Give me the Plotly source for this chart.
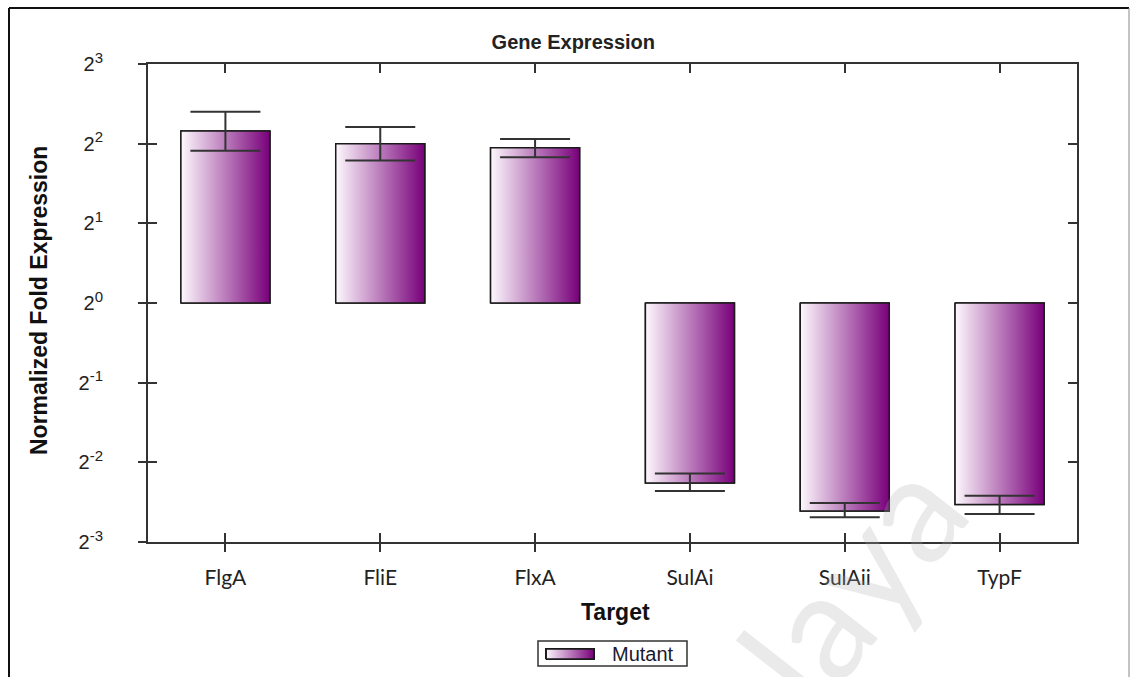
import plotly.graph_objects as go

# ---- data (log2 of normalized fold expression) ----
targets = ["FlgA", "FliE", "FlxA", "SulAi", "SulAii", "TypF"]
log2_fold = [2.16, 2.00, 1.95, -2.26, -2.61, -2.53]
err_plus = [0.24, 0.21, 0.11, 0.12, 0.10, 0.11]
err_minus = [0.25, 0.21, 0.12, 0.10, 0.08, 0.12]
y_tick_exps = [-3, -2, -1, 0, 1, 2, 3]
series_name = "Mutant"

BAR_W = 0.575
GRAD = [[0, "#fdf8fd"], [1, "#78007a"]]
AX = "#333333"
EDGE = "#1a1a1a"

# plot area in pixels: x 148..1077, y 64..672 ; main axes occupy y 64..542
H_PLOT = 608.0
def py(ypix):  # pixel row -> paper y
    return (672 - ypix) / H_PLOT
def px(xpix):  # pixel column -> paper x
    return (xpix - 148) / 929.0

main_dom = [py(542), 1.0]
idx = list(range(len(targets)))

fig = go.Figure()

# outline bars (data bars)
fig.add_trace(go.Bar(
    x=idx, y=log2_fold, width=BAR_W,
    marker=dict(color="rgba(0,0,0,0)", line=dict(color=EDGE, width=1.5)),
    showlegend=False, name=series_name, hoverinfo="skip",
))

# gradient-filled bar bodies (one polygon per bar so each gets its own gradient)
for i, v in zip(idx, log2_fold):
    x0, x1 = i - BAR_W / 2, i + BAR_W / 2
    fig.add_trace(go.Scatter(
        x=[x0, x1, x1, x0, x0], y=[0, 0, v, v, 0],
        mode="lines", fill="toself",
        fillgradient=dict(type="horizontal", colorscale=GRAD),
        line=dict(color=EDGE, width=1.5),
        name=series_name, showlegend=False, hoverinfo="skip",
    ))

# asymmetric error bars on top
fig.add_trace(go.Scatter(
    x=idx, y=log2_fold, mode="markers",
    marker=dict(size=1, color="rgba(0,0,0,0)"),
    error_y=dict(type="data", symmetric=False, array=err_plus, arrayminus=err_minus,
                 color=AX, thickness=2, width=35),
    showlegend=False, name=series_name,
))

# helper trace for the overlaid inside-tick axes
fig.add_trace(go.Scatter(x=[None], y=[None], xaxis="x2", yaxis="y2",
                         showlegend=False, hoverinfo="skip"))

# legend swatch (gradient box) on its own tiny axes
fig.add_trace(go.Scatter(
    x=[0, 1, 1, 0, 0], y=[0, 0, 1, 1, 0], xaxis="x3", yaxis="y3",
    mode="lines", fill="toself",
    fillgradient=dict(type="horizontal", colorscale=GRAD),
    line=dict(color=EDGE, width=2), showlegend=False, hoverinfo="skip",
))

ytext = [f"2<sup><span style='font-size:15px'>{e}</span></sup>" for e in y_tick_exps]
xr = [-0.5, len(targets) - 0.5]
yr = [-3, 3]
hidden = dict(visible=False, showgrid=False, zeroline=False)

fig.update_layout(
    width=1131, height=677, autosize=False,
    margin=dict(l=148, r=54, t=64, b=5),
    paper_bgcolor="white", plot_bgcolor="rgba(0,0,0,0)",
    barmode="overlay",
    showlegend=False,
    font=dict(family="Liberation Sans, Arial", color="#222222"),
    xaxis=dict(range=xr, tickvals=idx, ticktext=targets, anchor="y", automargin=False,
               showgrid=False, zeroline=False, showline=True, mirror=True,
               linecolor=AX, linewidth=2, ticks="outside", ticklen=8,
               tickwidth=2, tickcolor=AX, ticklabelstandoff=8,
               tickfont=dict(family="Lato, Open Sans", size=21, color="#222222")),
    yaxis=dict(range=yr, domain=main_dom, tickvals=y_tick_exps, ticktext=ytext,
               automargin=False,
               showgrid=False, zeroline=False, showline=True, mirror=True,
               linecolor=AX, linewidth=2, ticks="outside", ticklen=8,
               tickwidth=2, tickcolor=AX, ticklabelstandoff=31,
               tickfont=dict(family="Liberation Sans, Arial", size=20, color="#222222")),
    xaxis2=dict(overlaying="x", anchor="y2", range=xr, automargin=False,
                tickvals=idx, showticklabels=False,
                showgrid=False, zeroline=False, showline=False,
                ticks="inside", mirror="ticks", ticklen=9, tickwidth=2, tickcolor=AX),
    yaxis2=dict(overlaying="y", anchor="x2", range=yr, tickvals=y_tick_exps,
                automargin=False,
                showticklabels=False, showgrid=False, zeroline=False,
                showline=False, ticks="inside", mirror="ticks", ticklen=9,
                tickwidth=2, tickcolor=AX),
    xaxis3=dict(domain=[px(545), px(595)], anchor="y3", range=[-0.02, 1.02],
                automargin=False, **hidden),
    yaxis3=dict(domain=[py(660), py(648)], anchor="x3", range=[-0.06, 1.06],
                automargin=False, **hidden),
    title=dict(text="<b>Gene Expression</b>", x=px(655), xref="paper",
               y=1 - 42 / 677, yref="container", xanchor="right", yanchor="middle",
               font=dict(size=20, family="Liberation Sans, Arial", color="#222222")),
)

# axis titles
fig.add_annotation(text="<b>Normalized Fold Expression</b>", xref="paper", yref="paper",
                   x=px(39), y=py(301), textangle=-90, showarrow=False,
                   xanchor="center", yanchor="middle",
                   font=dict(size=23, family="Liberation Sans, Arial", color="#111111"))
fig.add_annotation(text="<b>Target</b>", xref="paper", yref="paper",
                   x=px(615), y=py(612), showarrow=False, xanchor="center", yanchor="middle",
                   font=dict(size=23, family="Liberation Sans, Arial", color="#111111"))

# legend frame + label
fig.add_shape(type="rect", xref="paper", yref="paper",
              x0=px(538), x1=px(687), y0=py(666), y1=py(641),
              line=dict(color=AX, width=1.5), fillcolor="rgba(0,0,0,0)")
fig.add_annotation(text=series_name, xref="paper", yref="paper",
                   x=px(610), y=py(654), showarrow=False, xanchor="left", yanchor="middle",
                   font=dict(size=20, family="Liberation Sans, Arial", color="#1a1a2e"))

# faint watermark
fig.add_annotation(text="laya", xref="paper", yref="paper", x=px(850), y=py(580),
                   textangle=-52, showarrow=False, xanchor="center", yanchor="middle",
                   font=dict(size=150, family="Lato, Open Sans", color="rgba(170,170,170,0.25)"))

# outer frame of the picture
fig.add_shape(type="line", xref="paper", yref="paper", x0=px(9), x1=px(1129),
              y0=py(8), y1=py(8), line=dict(color="#111111", width=2))
fig.add_shape(type="line", xref="paper", yref="paper", x0=px(9), x1=px(9),
              y0=py(8), y1=py(700), line=dict(color="#111111", width=2))
fig.add_shape(type="line", xref="paper", yref="paper", x0=px(1129), x1=px(1129),
              y0=py(8), y1=py(700), line=dict(color="#888888", width=1))

css_js = (
    "document.documentElement.style.margin='0';"
    "document.documentElement.style.padding='0';"
    "document.documentElement.style.overflow='hidden';"
    "document.documentElement.style.height='677px';"
    "document.body.style.margin='0';"
    "document.body.style.padding='0';"
    "document.body.style.overflow='hidden';"
    "document.body.style.height='677px';"
    "var w=document.body.firstElementChild;"
    "if(w){w.style.height='677px';w.style.overflow='hidden';w.style.margin='0';}"
)
fig.write_html("out.html", config={"displayModeBar": False}, post_script=css_js)
